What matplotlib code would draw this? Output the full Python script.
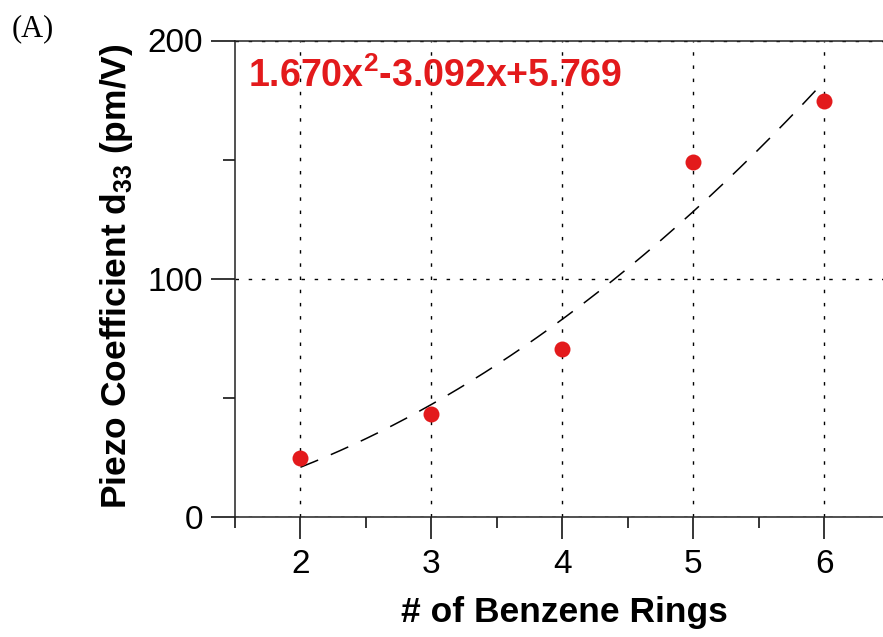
import matplotlib
matplotlib.use("Agg")
import matplotlib.pyplot as plt
import numpy as np
from matplotlib.ticker import MultipleLocator

# data
rings = [2, 3, 4, 5, 6]
d33 = [24.9, 43.4, 70.4, 148.8, 174.6]
fit_label = r"1.670x$^{\mathbf{2}}$-3.092x+5.769"

red = "#e31a1c"

plt.rcParams["font.family"] = ["Liberation Sans", "DejaVu Sans"]
plt.rcParams["mathtext.fontset"] = "custom"
plt.rcParams["mathtext.rm"] = "Liberation Sans"
plt.rcParams["mathtext.bf"] = "Liberation Sans:bold"

W, H = 883, 637
fig = plt.figure(figsize=(W / 100, H / 100), dpi=100)
ax = fig.add_axes([235 / W, (H - 517) / H, 648 / W, 476.5 / H])

# quadratic fit through the points (dashed)
coef = np.polyfit(rings, d33, 2)
xf = np.linspace(rings[0], rings[-1], 200)
ax.plot(xf, np.polyval(coef, xf), color="black", lw=1.1,
        linestyle=(0, (12.5, 9)), zorder=3)
ax.plot(rings, d33, "o", color=red, ms=11.5, mec="none", zorder=4)

ax.set_xlim(1.5, 6.45)
ax.set_ylim(0, 200)
ax.xaxis.set_major_locator(MultipleLocator(1))
ax.xaxis.set_minor_locator(MultipleLocator(0.5))
ax.yaxis.set_major_locator(MultipleLocator(100))
ax.yaxis.set_minor_locator(MultipleLocator(50))

ax.grid(True, which="major", color="black", lw=1.0, linestyle=(0, (2.5, 7)))
ax.set_axisbelow(True)

ax.spines["right"].set_visible(False)
for s in ["left", "bottom", "top"]:
    ax.spines[s].set_linewidth(1.1)
    ax.spines[s].set_color("#222222")

ax.tick_params(axis="x", which="major", direction="out", length=16, width=1.1,
               pad=7, labelsize=24, top=False)
ax.tick_params(axis="x", which="minor", direction="out", length=8, width=1.1, top=False)
ax.tick_params(axis="y", which="major", direction="out", length=17, width=1.1,
               pad=6, labelsize=24, right=False)
ax.tick_params(axis="y", which="minor", direction="out", length=8.5, width=1.1, right=False)

ax.set_xlabel("# of Benzene Rings", fontsize=25.5, fontweight="bold")
ax.xaxis.set_label_coords(0.508, -0.165)
ax.set_ylabel(r"Piezo Coefficient d$_{\mathbf{33}}$ (pm/V)", fontsize=25.5, fontweight="bold")
ax.yaxis.set_label_coords(-0.154, 0.506)

ax.text(0.02, 0.902, fit_label, transform=ax.transAxes, color=red,
        fontsize=27, fontweight="bold", va="baseline", ha="left")

fig.text(12 / W, 1 - 36 / H, "(A)", family="Liberation Serif", fontsize=22,
         va="baseline", ha="left")

fig.savefig("out.png", dpi=100)
